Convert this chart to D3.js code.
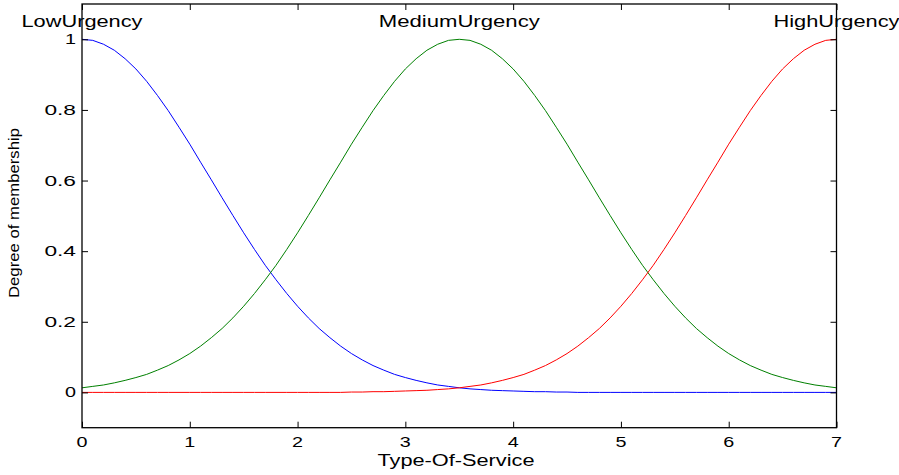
<!DOCTYPE html>
<html>
<head>
<meta charset="utf-8">
<script src="https://cdn.jsdelivr.net/npm/d3@7"></script>
<style>
  html, body { margin: 0; padding: 0; background: #fff; }
  svg { display: block; }
  text { font-family: "Liberation Sans", Arial, Helvetica, sans-serif; fill: #000; }
</style>
</head>
<body>
<svg id="chart" width="899" height="475"></svg>
<script>
// ---- data ----
const xStep = 0.1;                      // sampling step of the x grid (0 .. 7)
const lowUrgency = [
  1.000, 0.997, 0.986, 0.969, 0.945, 0.916, 0.881, 0.841, 0.798, 0.751,
  0.703, 0.652, 0.602, 0.551, 0.501, 0.452, 0.405, 0.360, 0.319, 0.280,
  0.244, 0.211, 0.181, 0.155, 0.131, 0.110, 0.092, 0.076, 0.063, 0.051,
  0.042, 0.034, 0.027, 0.021, 0.017, 0.013, 0.010, 0.008, 0.006, 0.005,
  0.004, 0.003, 0.002, 0.002, 0.001, 0.001, 0, 0, 0, 0,
  0, 0, 0, 0, 0, 0, 0, 0, 0, 0,
  0, 0, 0, 0, 0, 0, 0, 0, 0, 0,
  0
];
const mediumUrgency = [
  0.013, 0.017, 0.021, 0.027, 0.034, 0.042, 0.051, 0.063, 0.076, 0.092,
  0.110, 0.131, 0.155, 0.181, 0.211, 0.244, 0.280, 0.319, 0.360, 0.405,
  0.452, 0.501, 0.551, 0.602, 0.652, 0.703, 0.751, 0.798, 0.841, 0.881,
  0.916, 0.945, 0.969, 0.986, 0.997, 1.000, 0.997, 0.986, 0.969, 0.945,
  0.916, 0.881, 0.841, 0.798, 0.751, 0.703, 0.652, 0.602, 0.551, 0.501,
  0.452, 0.405, 0.360, 0.319, 0.280, 0.244, 0.211, 0.181, 0.155, 0.131,
  0.110, 0.092, 0.076, 0.063, 0.051, 0.042, 0.034, 0.027, 0.021, 0.017,
  0.013
];
const highUrgency = [
  0, 0, 0, 0, 0, 0, 0, 0, 0, 0,
  0, 0, 0, 0, 0, 0, 0, 0, 0, 0,
  0, 0, 0, 0, 0, 0.001, 0.001, 0.002, 0.002, 0.003,
  0.004, 0.005, 0.006, 0.008, 0.010, 0.013, 0.017, 0.021, 0.027, 0.034,
  0.042, 0.051, 0.063, 0.076, 0.092, 0.110, 0.131, 0.155, 0.181, 0.211,
  0.244, 0.280, 0.319, 0.360, 0.405, 0.452, 0.501, 0.551, 0.602, 0.652,
  0.703, 0.751, 0.798, 0.841, 0.881, 0.916, 0.945, 0.969, 0.986, 0.997,
  1.000
];
const seriesNames = ["LowUrgency", "MediumUrgency", "HighUrgency"];
const seriesCenters = [0, 3.5, 7];
const seriesColors = ["#0000ff", "#008000", "#ff0000"];
const xTicks = [0, 1, 2, 3, 4, 5, 6, 7];
const yTicks = [0, 0.2, 0.4, 0.6, 0.8, 1];
const yTickLabels = ["0", "0.2", "0.4", "0.6", "0.8", "1"];
const xLabel = "Type-Of-Service";
const yLabel = "Degree of membership";

(function () {
  // ---- layout ----
  const svg = d3.select("#chart");
  const L = 82, R = 836.5, T = 4, B = 427.7;
  const x = d3.scaleLinear().domain([0, 7]).range([L, R]);
  const y = d3.scaleLinear().domain([-0.1, 1.1]).range([B, T]);

  svg.append("rect").attr("width", 899).attr("height", 475).attr("fill", "#fff");

  // curves
  const allSeries = [lowUrgency, mediumUrgency, highUrgency];
  const line = d3.line().x((d, i) => x(i * xStep)).y(d => y(d));
  allSeries.forEach((s, k) => {
    svg.append("path")
      .attr("d", line(s))
      .attr("fill", "none")
      .attr("stroke", seriesColors[k])
      .attr("stroke-width", 1);
  });

  // axes with inward ticks on all four sides
  const tickLen = 6;
  const axB = d3.axisBottom(x).tickValues(xTicks).tickSize(-tickLen).tickFormat("");
  const axT = d3.axisTop(x).tickValues(xTicks).tickSize(-tickLen).tickFormat("");
  const axL = d3.axisLeft(y).tickValues(yTicks).tickSize(-tickLen).tickFormat("");
  const axR = d3.axisRight(y).tickValues(yTicks).tickSize(-tickLen).tickFormat("");
  [[axB, `translate(0,${B})`], [axT, `translate(0,${T})`],
   [axL, `translate(${L},0)`], [axR, `translate(${R},0)`]].forEach(([ax, tr]) => {
    const g = svg.append("g").attr("transform", tr).call(ax);
    g.select(".domain").remove();
    g.selectAll(".tick line").attr("stroke", "#000").attr("stroke-width", 1);
  });
  svg.append("rect")
    .attr("x", L).attr("y", T).attr("width", R - L).attr("height", B - T)
    .attr("fill", "none").attr("stroke", "#000").attr("stroke-width", 1.3);

  // tick labels
  xTicks.forEach(v => {
    svg.append("text")
      .attr("x", x(v)).attr("y", 447)
      .attr("text-anchor", "middle")
      .attr("font-size", 14)
      .attr("textLength", 11).attr("lengthAdjust", "spacingAndGlyphs")
      .text(String(v));
  });
  yTicks.forEach((v, i) => {
    const lbl = yTickLabels[i];
    svg.append("text")
      .attr("x", 76).attr("y", y(v) + 5)
      .attr("text-anchor", "end")
      .attr("font-size", 14)
      .attr("textLength", lbl.length > 1 ? 31.6 : 11).attr("lengthAdjust", "spacingAndGlyphs")
      .text(lbl);
  });

  // series labels at top
  const labelWidths = [121, 161, 126];
  seriesNames.forEach((n, k) => {
    svg.append("text")
      .attr("x", x(seriesCenters[k])).attr("y", 27)
      .attr("text-anchor", "middle")
      .attr("font-size", 16)
      .attr("textLength", labelWidths[k]).attr("lengthAdjust", "spacingAndGlyphs")
      .text(n);
  });

  // axis titles
  svg.append("text")
    .attr("x", 456).attr("y", 466)
    .attr("text-anchor", "middle")
    .attr("font-size", 16)
    .attr("textLength", 157).attr("lengthAdjust", "spacingAndGlyphs")
    .text(xLabel);
  svg.append("text")
    .attr("transform", "translate(19,213) rotate(-90)")
    .attr("text-anchor", "middle")
    .attr("font-size", 14)
    .attr("textLength", 170).attr("lengthAdjust", "spacingAndGlyphs")
    .text(yLabel);
})();
</script>
</body>
</html>
